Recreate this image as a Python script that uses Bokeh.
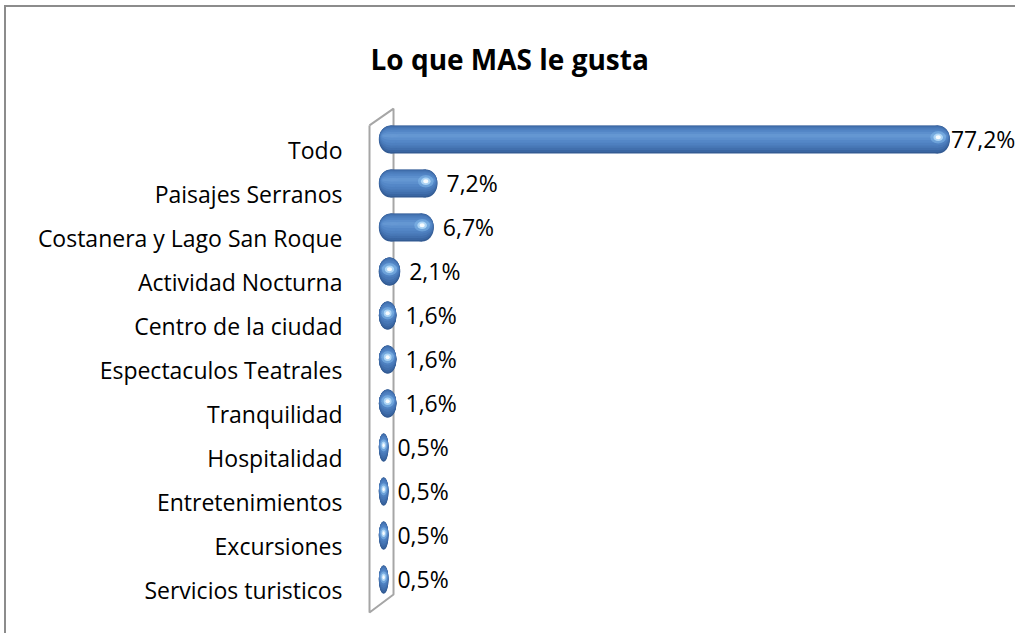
import numpy as np
from bokeh.plotting import figure
from bokeh.models import Range1d, FixedTicker
from bokeh.embed import file_html
from bokeh.resources import INLINE
from bokeh.core.properties import value

categories = ["Todo", "Paisajes Serranos", "Costanera y Lago San Roque",
              "Actividad Nocturna", "Centro de la ciudad", "Espectaculos Teatrales",
              "Tranquilidad", "Hospitalidad", "Entretenimientos", "Excursiones",
              "Servicios turisticos"]
values = [77.2, 7.2, 6.7, 2.1, 1.6, 1.6, 1.6, 0.5, 0.5, 0.5, 0.5]
title_text = "Lo que MAS le gusta"

n = len(categories)
vals = np.array(values, dtype=float)
ypos = np.arange(n)[::-1].astype(float)          # Todo at top
labels = [f"{v:.1f}%".replace(".", ",") for v in values]

FONT = "Open Sans"
XMIN, XMAX = -3.32, 86.43
p = figure(width=1011, height=628,
           x_range=Range1d(XMIN, XMAX), y_range=Range1d(-1.023, 11.545),
           x_axis_location=None, output_backend="svg", toolbar_location=None,
           min_border_left=354, min_border_right=0, min_border_top=75,
           min_border_bottom=0, title=title_text)
p.styles = {"margin-left": "4px", "margin-top": "5px",
            "border-left": "2px solid #8c8c8c", "border-top": "2px solid #8c8c8c"}
p.grid.visible = False
p.outline_line_color = None
p.background_fill_color = "white"
p.border_fill_color = "white"

p.title.text_font = FONT
p.title.text_font_size = "28px"
p.title.text_font_style = "bold"
p.title.text_color = "black"
p.title.align = "left"
p.title.offset = 10
p.title.standoff = 10

ax = p.yaxis[0]
ax.ticker = FixedTicker(ticks=list(ypos))
ax.major_label_overrides = {float(y): c for y, c in zip(ypos, categories)}
ax.axis_line_color = None
ax.major_tick_line_color = None
ax.minor_tick_line_color = None
ax.major_tick_out = 0
ax.major_label_standoff = 18
ax.major_label_text_font = FONT
ax.major_label_text_font_size = "23px"
ax.major_label_text_color = "black"

# 3D wall outline (decoration)
wall_x = [-2.09, 1.19, 1.19, -2.09, -2.09]
wall_y = [ypos[0] + 0.57, ypos[0] + 0.95, -0.09, -0.5, ypos[0] + 0.57]
p.line(wall_x, wall_y, line_color="#a6a6a6", line_width=2)

# capsule bars
bar_y = ypos + 0.25
H = 0.64
x0 = np.full(n, -0.82)
x1 = vals
rx = np.minimum(1.6, (x1 - x0) / 2)
cl = x0 + rx
cr = x1 - rx

def layer(hfrac, dy, scale, color, alpha=1.0):
    yy = bar_y + dy
    hh = H * hfrac
    p.hbar(y=yy, left=cl, right=np.maximum(cr, cl), height=hh,
           fill_color=color, fill_alpha=alpha, line_color=None)
    for cx in (cl, cr):
        p.ellipse(x=cx, y=yy, width=2 * rx * scale, height=hh,
                  fill_color=color, fill_alpha=alpha, line_color=None)

layer(1.00, 0.000, 1.00, "#335b93")
layer(0.93, 0.015, 0.98, "#3a66a2")
layer(0.84, 0.030, 0.95, "#416fad")
layer(0.73, 0.045, 0.92, "#4878b7")
layer(0.60, 0.058, 0.88, "#4e80c0")
layer(0.45, 0.068, 0.84, "#5487c7")
layer(0.28, 0.078, 0.78, "#5c8fcd")
layer(0.12, 0.085, 0.70, "#6698d3", 0.8)

spot_w = np.minimum(1.2, rx * 0.8)
p.ellipse(x=cr, y=bar_y + 0.05, width=spot_w * 1.8, height=0.28,
          fill_color="#8cc4f0", fill_alpha=0.45, line_color=None)
p.ellipse(x=cr, y=bar_y + 0.05, width=spot_w * 1.1, height=0.17,
          fill_color="#c6e8ff", fill_alpha=0.7, line_color=None)
p.ellipse(x=cr, y=bar_y + 0.05, width=spot_w * 0.6, height=0.09,
          fill_color="#ffffff", fill_alpha=0.9, line_color=None)

# value labels
lx = np.minimum(vals + 1.23, XMAX - 9.1)
p.text(x=lx, y=bar_y, text=labels, text_font=value(FONT), text_font_size="23px",
       text_baseline="middle", text_align="left", text_color="black")

open("out.html", "w").write(file_html(p, INLINE))
